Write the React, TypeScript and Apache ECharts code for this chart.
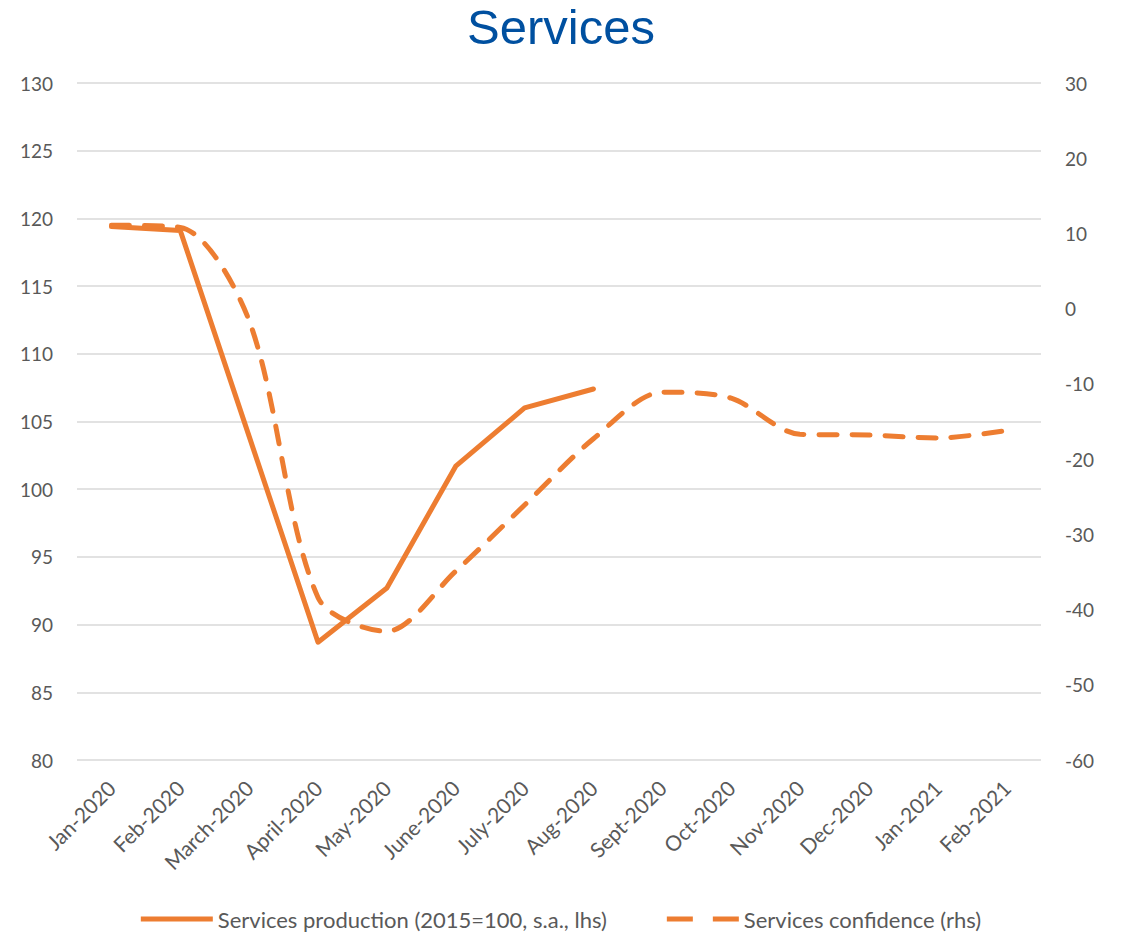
import React, { useEffect, useRef } from "react";
import * as echarts from "echarts";

const categories = [
  "Jan-2020", "Feb-2020", "March-2020", "April-2020", "May-2020", "June-2020", "July-2020",
  "Aug-2020", "Sept-2020", "Oct-2020", "Nov-2020", "Dec-2020", "Jan-2021", "Feb-2021",
];
const production = [119.4, 119.1, 103.9, 88.7, 92.7, 101.7, 106.0, 107.4, null, null, null, null, null, null];
const confidence = [11.1, 10.8, -1.6, -38.4, -42.9, -34.9, -26.1, -17.3, -11.1, -11.9, -16.7, -16.8, -17.2, -16.2];

const ORANGE = "#ED7D31";
const GREY = "#595959";
const FONT = "Lato, 'Open Sans', sans-serif";

export default function App() {
  const ref = useRef<HTMLDivElement>(null);
  useEffect(() => {
    if (!ref.current) return;
    const chart = echarts.init(ref.current, undefined, { renderer: "svg" });
    chart.setOption({
      animation: false,
      title: {
        text: "Services",
        left: "center",
        top: 0,
        padding: 2,
        textStyle: { color: "#0050A0", fontSize: 49, fontWeight: "normal", fontFamily: "'Liberation Sans', Arial, sans-serif" },
      },
      grid: { left: 77, right: 81, top: 83, bottom: 176 },
      legend: {
        top: 903,
        left: "center",
        itemWidth: 72,
        itemHeight: 5,
        itemGap: 60,
        textStyle: { color: GREY, fontSize: 22, fontFamily: FONT },
        data: [
          { name: "Services production (2015=100, s.a., lhs)", icon: "path://M0,0H72V5H0Z" },
          { name: "Services confidence (rhs)", icon: "path://M0,0H26V5H0Z M46,0H72V5H46Z" },
        ],
      },
      xAxis: {
        type: "category",
        data: categories,
        boundaryGap: true,
        axisLine: { show: false },
        axisTick: { show: false },
        axisLabel: { rotate: 45, color: GREY, fontSize: 21, fontFamily: FONT, margin: 24, interval: 0 },
      },
      yAxis: [
        {
          type: "value",
          min: 80,
          max: 130,
          interval: 5,
          position: "left",
          axisLine: { show: false },
          axisTick: { show: false },
          axisLabel: { color: GREY, fontSize: 19, fontFamily: FONT, margin: 24 },
          splitLine: { lineStyle: { color: "#D9D9D9", width: 1.5 } },
        },
        {
          type: "value",
          min: -60,
          max: 30,
          interval: 10,
          position: "right",
          axisLine: { show: false },
          axisTick: { show: false },
          axisLabel: { color: GREY, fontSize: 19, fontFamily: FONT, margin: 24 },
          splitLine: { show: false },
        },
      ],
      series: [
        {
          name: "Services production (2015=100, s.a., lhs)",
          type: "line",
          yAxisIndex: 0,
          data: production,
          symbol: "none",
          lineStyle: { color: ORANGE, width: 5, cap: "round", join: "round" },
          itemStyle: { color: ORANGE },
        },
        {
          name: "Services confidence (rhs)",
          type: "line",
          yAxisIndex: 1,
          data: confidence,
          symbol: "none",
          smooth: 0.3,
          lineStyle: { color: ORANGE, width: 5, type: [18, 15], cap: "round" },
          itemStyle: { color: ORANGE },
        },
      ],
    });
    return () => chart.dispose();
  }, []);
  return (
    <div
      ref={ref}
      style={{ position: "absolute", left: 0, top: 0, width: 1122, height: 936 }}
    />
  );
}
